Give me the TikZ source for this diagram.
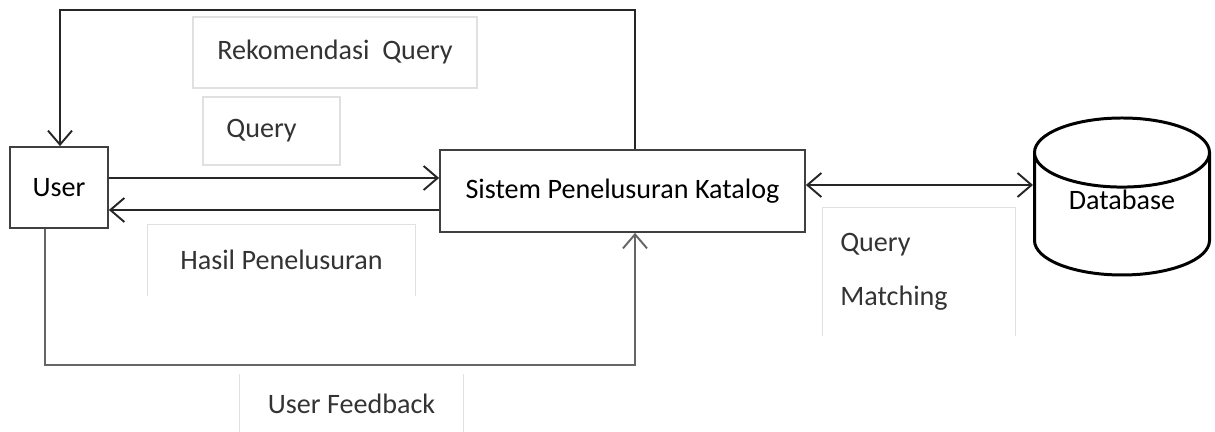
\documentclass[tikz,border=0pt]{standalone}
\usepackage{fontspec}
\setmainfont{Carlito}
\usetikzlibrary{arrows.meta,shapes.geometric}

\begin{document}
\begin{tikzpicture}[
    >={Straight Barb[length=2.8mm,width=4.8mm]},
    box/.style={
        draw=black!75,
        line width=1pt,
        align=center,
        inner sep=0pt,
        font=\fontsize{16}{18}\selectfont
    },
    lbl/.style={
        draw=black!12,
        line width=0.8pt,
        align=center,
        inner sep=0pt,
        text=black!80,
        font=\fontsize{16}{18}\selectfont
    },
    arr/.style={->, line width=1.1pt, draw=black!85}
]
    \useasboundingbox (0,0) rectangle (24.3,8.64);

    \node[box, minimum width=1.96cm, minimum height=1.62cm] (usr) at (1.18,4.89)
        {User};

    \node[box, minimum width=7.3cm, minimum height=1.64cm] (sis) at (12.45,4.82)
        {Sistem Penelusuran Katalog};

    \node[box, draw=black, line width=1.7pt, shape=cylinder, shape border rotate=90,
        aspect=0.65, minimum width=3.5cm, minimum height=3.14cm, anchor=shape center] (db) at (22.44,4.71)
        {\raisebox{0.6cm}{Database}};

    % labels
    \node[lbl, minimum width=5.68cm, minimum height=1.42cm] (lrek) at (6.7,7.59)
        {Rekomendasi~ Query};

    \node[lbl, minimum width=2.74cm, minimum height=1.36cm] (lqry) at (5.43,6.02)
        {Query\hspace*{0.4cm}};

    \node[lbl, draw=none, minimum width=5.34cm, minimum height=1.4cm] (lhsl) at (5.63,3.44)
        {Hasil Penelusuran};
    \draw[black!12, line width=0.8pt] (lhsl.south west) |- (lhsl.north east) -- (lhsl.south east);

    \node[lbl, draw=none, minimum width=3.84cm, minimum height=2.54cm, align=left] (lmat) at (18.38,3.21)
        {Query\hspace*{1.4cm}\\[0.45cm]Matching\hspace*{1cm}};
    \draw[black!12, line width=0.8pt] (lmat.south west) |- (lmat.north east) -- (lmat.south east);

    \node[lbl, draw=none, minimum width=4.46cm, minimum height=1.14cm] (lfb) at (7.03,0.57)
        {User Feedback};
    \draw[black!12, line width=0.8pt] (lfb.south west) -- (lfb.north west);
    \draw[black!12, line width=0.8pt] (lfb.south east) -- (lfb.north east);

    % connectors
    \coordinate (topL) at (1.2,8.44);
    \coordinate (topR) at (12.7,8.44);
    \coordinate (botL) at (0.9,1.34);
    \coordinate (botR) at (12.7,1.34);
    \coordinate (qy) at (0,5.08);
    \coordinate (hy) at (0,4.44);
    \coordinate (dy) at (0,4.94);

    \draw[arr] (topR |- sis.north) -- (topR) -- (topL) -- (topL |- usr.north);
    \draw[arr] (usr.east |- qy) -- (sis.west |- qy);
    \draw[arr] (sis.west |- hy) -- (usr.east |- hy);
    \draw[arr, draw=black!60] (botL |- usr.south) -- (botL) -- (botR) -- (botR |- sis.south);
    \draw[arr, <->] (sis.east |- dy) -- (db.west |- dy);
\end{tikzpicture}
\end{document}
